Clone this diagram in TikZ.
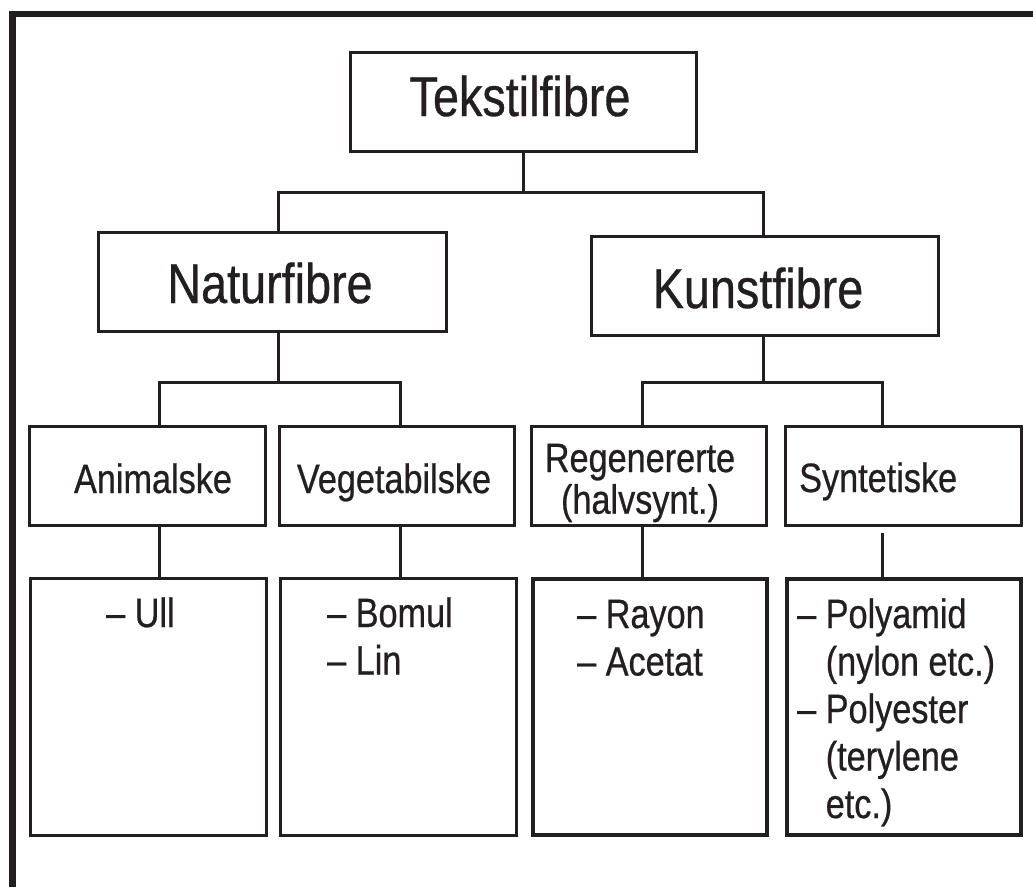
\documentclass[tikz,border=0pt]{standalone}
\usepackage{fontspec}
\setmainfont{Liberation Sans}[FakeStretch=0.835,FakeBold=0.6]
\definecolor{ink}{RGB}{35,31,32}
\begin{document}
\begin{tikzpicture}[x=1pt,y=-1pt,
  box/.style={draw=ink, line width=3pt, inner sep=0pt, minimum height=99pt},
  tallbox/.style={box, minimum height=257pt},
  thickbox/.style={box, line width=4pt, minimum height=256pt},
  conn/.style={draw=ink, line width=3pt, line join=miter},
  frame/.style={draw=ink, line width=6.5pt, line join=miter},
  big/.style={font=\fontsize{56}{60}\selectfont, text=ink, inner sep=0pt},
  small/.style={font=\fontsize{41}{47.5}\selectfont, text=ink, inner sep=0pt},
  tight/.style={font=\fontsize{41}{40}\selectfont, text=ink, inner sep=0pt}]
\useasboundingbox (0,0) rectangle (1033,887);
\fill[white] (0,0) rectangle (1033,887);

% outer frame (left and top edges)
\coordinate (fbl) at (12.5,887);
\coordinate (ftl) at (12.5,14);
\coordinate (ftr) at (1033,14);
\draw[frame] (fbl) -- (ftl) -- (ftr);

% boxes
\node[box, minimum width=346pt] (tek) at (523.5,102) {};
\node[box, minimum width=348pt] (nat) at (272.5,282) {};
\node[box, minimum width=347pt] (kun) at (765,286) {};
\node[box, minimum width=236pt] (ani) at (147.5,476) {};
\node[box, minimum width=235pt] (veg) at (397,476) {};
\node[box, minimum width=235pt] (reg) at (649,476) {};
\node[box, minimum width=236pt] (syn) at (903.5,476) {};
\node[tallbox, minimum width=236pt] (ull) at (148.5,707) {};
\node[tallbox, minimum width=236pt] (bom) at (398.5,707) {};
\node[thickbox, minimum width=234pt] (ray) at (650,707) {};
\node[thickbox, minimum width=234pt] (pol) at (904,707) {};

% texts
\node[big, anchor=base] (tTek) at (520,116) {Tekstilfibre};
\node[big, anchor=base] (tNat) at (270,303) {Naturfibre};
\node[big, anchor=base] (tKun) at (758,308) {Kunstfibre};
\node[small, anchor=base] (tAni) at (153,493) {Animalske};
\node[small, anchor=base] (tVeg) at (394,493) {Vegetabilske};
\node[tight, anchor=base] (tReg) at (640,472)
  {\begin{tabular}[t]{@{}c@{}}Regenererte\\(halvsynt.)\end{tabular}};
\node[small, anchor=base west] (tSyn) at (799,492) {Syntetiske};
\node[small, anchor=base west] (tUll) at (106,627) {– Ull};
\node[small, anchor=base west] (tBom) at (327,627)
  {\begin{tabular}[t]{@{}l@{}}– Bomul\\– Lin\end{tabular}};
\node[small, anchor=base west] (tRay) at (577,628)
  {\begin{tabular}[t]{@{}l@{}}– Rayon\\– Acetat\end{tabular}};
\node[small, anchor=base west] (tPol) at (797,628)
  {\begin{tabular}[t]{@{}l@{}}– Polyamid\\\hphantom{– }(nylon etc.)\\– Polyester\\\hphantom{– }(terylene\\\hphantom{– }etc.)\end{tabular}};

% connector junctions
\coordinate (a1) at (278,192);
\coordinate (a2) at (763,192);
\coordinate (b1) at (159,382);
\coordinate (b2) at (400,382);
\coordinate (c1) at (642,382);
\coordinate (c2) at (882,382);

% level 1 -> 2
\draw[conn] (tek.south) -- (tek.south |- a1);
\draw[conn] (nat.north -| a1) |- (a2) -- (kun.north -| a2);
% level 2 -> 3
\draw[conn] (nat.south -| a1) -- (a1 |- b1);
\draw[conn] (ani.north -| b1) |- (b2) -- (veg.north -| b2);
\draw[conn] (kun.south -| a2) -- (a2 |- c1);
\draw[conn] (reg.north -| c1) |- (c2) -- (syn.north -| c2);
% level 3 -> 4
\draw[conn] (ani.south -| b1) -- (ull.north -| b1);
\draw[conn] (veg.south -| b2) -- (bom.north -| b2);
\draw[conn] (reg.south -| c1) -- (ray.north -| c1);
\draw[conn, shorten <=6pt] (syn.south -| c2) -- (pol.north -| c2);
\end{tikzpicture}
\end{document}
